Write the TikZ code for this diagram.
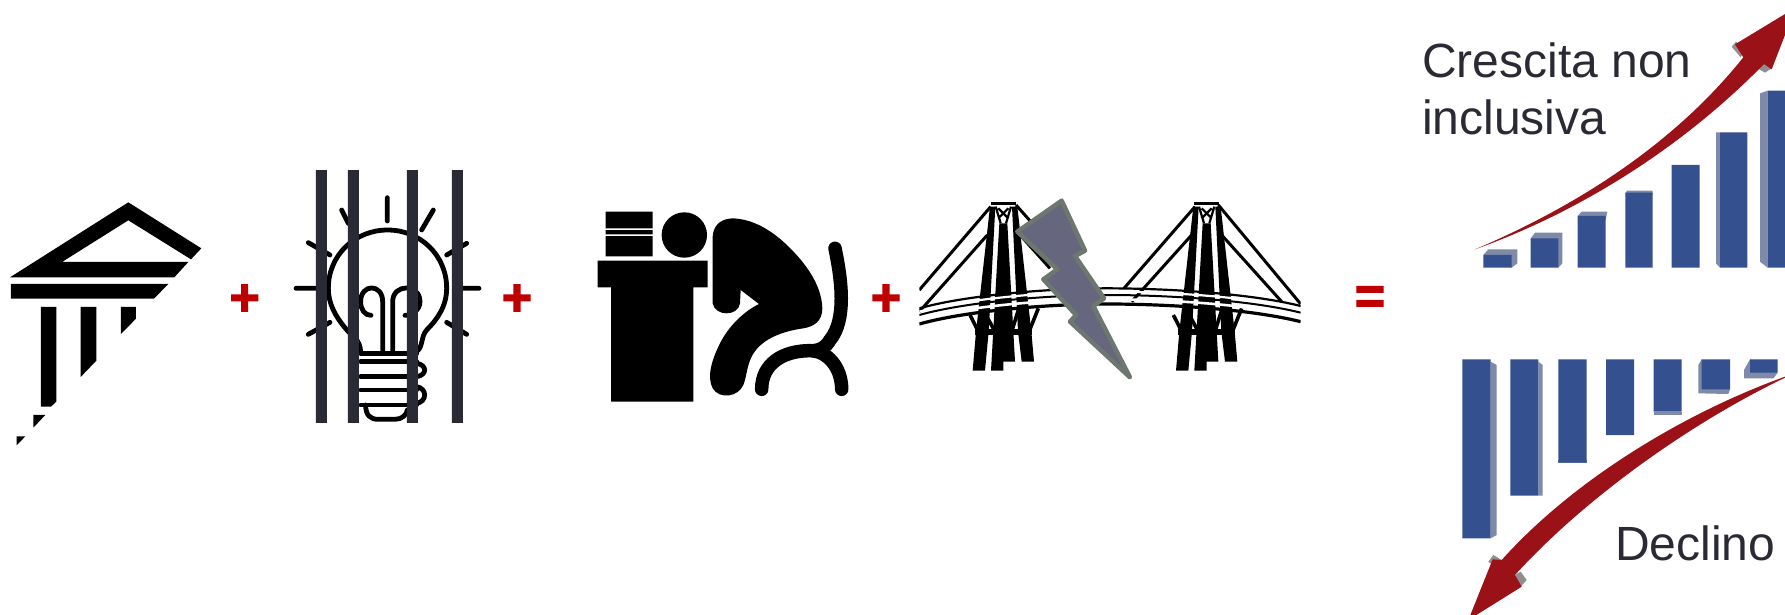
\documentclass[tikz,border=0pt]{standalone}
\usepackage{fontspec}
\setmainfont{Liberation Sans}
\newfontfamily\signfont[UprightFont=* Bold,FakeBold=2.5]{Liberation Sans}
\definecolor{inkdark}{HTML}{2A2A35}
\definecolor{plusred}{HTML}{C00000}
\definecolor{boltfill}{HTML}{66667F}
\definecolor{boltedge}{HTML}{6D7770}
\definecolor{barblue}{HTML}{34508F}
\definecolor{barside}{HTML}{7E8AA8}
\definecolor{arrowred}{HTML}{9B1118}
\definecolor{wingrey}{HTML}{8F8F8F}
\tikzset{
  plussign/.style={inner sep=0pt,text=plusred,font=\signfont\fontsize{52}{52}\selectfont},
  caption/.style={inner sep=0pt,anchor=base west,text=inkdark,font=\fontsize{48}{57}\selectfont},
  bulbline/.style={draw=black,line width=4.8pt,line cap=round,line join=round},
  chairline/.style={draw=black,line width=13.5pt,line cap=round,line join=round},
  cable/.style={draw=black,line width=3pt},
  bar/.style={fill=barblue},
  barface/.style={fill=barside},
  growth/.style={fill=arrowred},
}
\begin{document}
\begin{tikzpicture}[x=1pt,y=-1pt]
\useasboundingbox (0,0) rectangle (1785,615);
\clip (0,0) rectangle (1785,615);
% temple
\begin{scope}[shift={(0,160)},x=.33333pt,y=-.33333pt]
\fill (30,352)--(385,127)--(604,265)--(573,298)--(385,181)--(186,306)--(565,306)--(523,352)--cycle;
\fill (33,372)--(505,372)--(462,416)--(33,416)--cycle;
\fill (123,441)--(169,441)--(169,725)--(153,740)--(123,740)--cycle;
\fill (242,441)--(289,441)--(289,602)--(242,651)--cycle;
\fill (363,441)--(408,441)--(408,476)--(363,522)--cycle;
\fill (100,765)--(136,765)--(100,803)--cycle;
\fill (50,829)--(76,829)--(50,856)--cycle;
% bulb
\path[bulbline] (1162,113)--(1162,183) (1300,150)--(1265,210) (1025,150)--(1045,190)
  (925,248)--(990,285) (1400,250)--(1340,285) (888,385)--(948,385) (1390,385)--(1437,385)
  (925,523)--(990,487) (1340,487)--(1400,523);
\path[bulbline] (1082,575) .. controls (1080,540) and (1060,530) .. (1045,515)
  .. controls (1005,470) and (985,430) .. (985,385)
  .. controls (985,285) and (1065,210) .. (1163,210)
  .. controls (1260,210) and (1340,285) .. (1340,385)
  .. controls (1340,440) and (1310,480) .. (1280,510)
  .. controls (1262,530) and (1270,560) .. (1250,575);
\path[bulbline] (1148,575)--(1148,425) .. controls (1148,370) and (1082,370) .. (1082,425)
  .. controls (1082,450) and (1095,466) .. (1113,466);
\path[bulbline] (1178,575)--(1178,425) .. controls (1178,370) and (1260,370) .. (1260,425)
  .. controls (1260,450) and (1235,466) .. (1215,466);
\path[bulbline] (1082,580)--(1250,580) (1082,605)--(1250,605) (1082,650)--(1250,650)
  (1082,690)--(1250,690) (1082,735)--(1250,735);
\path[bulbline] (1250,610) .. controls (1282,615) and (1282,645) .. (1250,650)
  (1250,680) .. controls (1282,685) and (1282,725) .. (1250,730);
\path[bulbline] (1097,735) .. controls (1097,765) and (1110,778) .. (1135,778) -- (1185,778)
  .. controls (1205,778) and (1220,765) .. (1222,750);
\fill[inkdark] (948,30) rectangle (981,789) (1044,30) rectangle (1077,789)
  (1221,30) rectangle (1254,789) (1356,30) rectangle (1389,789);
\end{scope}
% person
\begin{scope}[shift={(580,180)},x=.33333pt,y=-.33333pt]
\fill (53,242) rectangle (383,322) (93,322) rectangle (340,665);
\fill (77,95) rectangle (218,145) (77,150) rectangle (218,163) (77,168) rectangle (218,229);
\fill (313,165) circle[radius=22.7pt];
\fill (398,170) .. controls (400,130) and (430,115) .. (460,115)
  .. controls (520,118) and (570,150) .. (610,185)
  .. controls (670,240) and (725,310) .. (727,385)
  .. controls (727,425) and (700,440) .. (670,445)
  .. controls (600,455) and (540,480) .. (515,530)
  .. controls (500,560) and (500,590) .. (490,615)
  .. controls (475,650) and (420,660) .. (398,625)
  .. controls (380,590) and (395,540) .. (420,490)
  .. controls (445,440) and (490,395) .. (537,372)
  -- (482,330) -- (480,370) .. controls (475,410) and (405,410) .. (398,370) -- cycle;
\path[chairline] (765,205) .. controls (785,300) and (800,420) .. (750,480) .. controls (735,505) and (720,510) .. (700,512);
\path[chairline] (545,628) .. controls (545,550) and (610,512) .. (690,512) .. controls (740,512) and (785,560) .. (785,628);
\end{scope}
% bridge
\begin{scope}[shift={(900,180)},x=.33333pt,y=-.33333pt]
\begin{scope}
\clip (58,0) rectangle (1202,640);
\path[cable] (272,80)--(58,330) (262,165)--(58,395) (348,75)--(450,190) (360,165)--(450,265);
\path[cable] (885,80)--(672,325) (875,165)--(695,365) (955,75)--(1202,372) (965,165)--(1145,365);
\foreach \dx in {0,610}{
 \begin{scope}[shift={(\dx,0)}]
  \fill (270,80)--(286,80)--(266,455)--(255,572)--(218,572)--(228,455)--cycle;
  \fill (336,80)--(352,80)--(394,455)--(402,545)--(365,545)--(354,455)--cycle;
  \fill (298,130)--(322,130)--(345,545)--(310,545)--(310,572)--(273,572)--cycle;
  \draw[line width=3.5pt] (272,71)--(348,71);
  \draw[line width=2.2pt] (287,80)--(302,130) (333,80)--(318,130) (295,85)--(325,115) (325,85)--(295,115);
  \fill (225,448) rectangle (395,466);
  \draw[line width=3.6pt] (210,405)--(238,460) (415,385)--(385,460) (258,405)--(285,455) (355,390)--(335,455);
 \end{scope}
}
\foreach \off/\wid/\col in {10/2.2/white,33/2.6/white,0/2.2/black,20/2/black,47/3.2/black}{
 \draw[color=\col,line width=\wid pt] (58,385+\off) .. controls (200,345+\off) and (450,325+\off) .. (620,325+\off)
   .. controls (800,325+\off) and (1050,340+\off) .. (1202,378+\off);
}
\end{scope}
\draw[fill=boltfill,draw=boltedge,line width=4.5pt,line join=round]
 (485,62)--(555,212)--(525,228)--(612,355)--(580,378)--(690,592)--(510,425)--(528,405)--(430,298)--(472,268)--(352,155)--cycle;
\end{scope}
% growth chart
\begin{scope}[shift={(1400,0)},x=.33333pt,y=-.33333pt]
\fill[barside] (265,748)--(352,748)--(352,790)--(335,803)--(250,765)--cycle;
\fill[barside] (405,698)--(487,698)--(487,790)--(475,803)--(392,715)--cycle;
\fill[barside] (545,635)--(622,635)--(617,660)--(533,648)--cycle;
\fill[barside] (680,572)--(758,572)--(758,585)--(676,585)--cycle;
\fill[barside] (948,397)--(960,397)--(960,803)--(948,790)--cycle;
\fill[barside] (1080,280)--(1103,272)--(1103,803)--(1080,785)--cycle;
\fill[bar] (250,765) rectangle (335,803) (392,715) rectangle (475,803) (533,648) rectangle (617,803)
  (676,578) rectangle (758,803) (815,495) rectangle (899,803) (960,397) rectangle (1042,803) (1103,272) rectangle (1170,803);
\fill[wingrey] (995,140)--(1008,125)--(1035,150)--(1022,172)--cycle (1072,205)--(1090,190)--(1115,205)--(1095,218)--cycle;
\fill[growth] (225,748) .. controls (480,640) and (800,460) .. (1030,172)
  -- (1005,133) -- (1175,30) -- (1155,105) -- (1115,208) -- (1092,192)
  .. controls (820,470) and (500,650) .. cycle;
\end{scope}
% decline chart
\begin{scope}[shift={(1400,330)},x=.33333pt,y=-.33333pt]
\fill[barside] (272,95)--(290,105)--(290,615)--(272,625)--cycle;
\fill[barside] (415,95)--(428,105)--(428,497)--(415,497)--cycle;
\fill[barside] (475,390)--(560,390)--(560,398)--(475,398)--cycle;
\fill[barside] (618,305)--(702,305)--(702,315)--(618,315)--cycle;
\fill[barside] (761,245)--(845,245)--(845,255)--(761,255)--cycle;
\fill[barside] (905,88)--(895,105)--(895,190)--(985,192)--(990,178)--cycle;
\fill[barside] (1050,88)--(1032,120)--(1032,145)--(1120,145)--(1133,128)--cycle;
\fill[bar] (187,88) rectangle (272,625) (331,88) rectangle (415,497) (475,88) rectangle (560,398)
  (618,88) rectangle (702,315) (761,88) rectangle (845,245) (905,88) rectangle (990,178) (1050,88) rectangle (1133,128);
\fill[wingrey] (265,695)--(280,675)--(305,690)--(290,715)--cycle (345,735)--(362,725)--(380,750)--(362,770)--cycle;
\fill[growth] (1155,140) .. controls (850,250) and (520,450) .. (305,690)
  -- (278,688) -- (205,870) -- (365,770) -- (345,735)
  .. controls (540,520) and (850,290) .. (1155,143) -- cycle;
\end{scope}
% signs
\node[plussign] (plusa) at (244.7,300) {+};
\node[plussign] (plusb) at (517,300) {+};
\node[plussign] (plusc) at (886,300) {+};
\node[plussign] (equal) at (1370,300) {=};
% captions
\node[caption] (crescita) at (1422,78) {Crescita non};
\node[caption] (inclusiva) at (1422,135) {inclusiva};
\node[caption] (declino) at (1615,560) {Declino};
\end{tikzpicture}
\end{document}
